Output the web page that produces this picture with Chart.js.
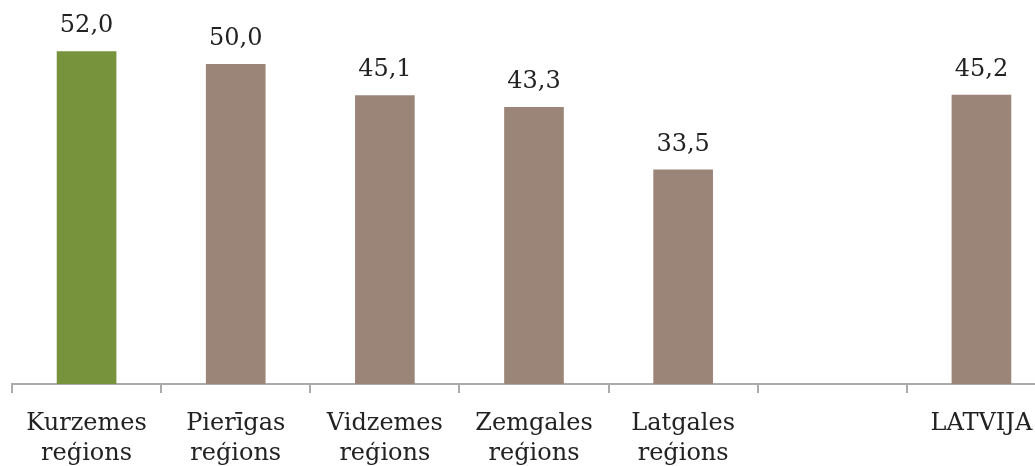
<!DOCTYPE html>
<html><head><meta charset="utf-8">
<script src="https://cdn.jsdelivr.net/npm/chart.js@4/dist/chart.umd.min.js"></script>
<style>
html,body{margin:0;padding:0;overflow:hidden;background:#fff;}
#wrap{position:absolute;left:0;top:0;width:1056px;height:466px;}
</style></head><body>
<div id="wrap"><canvas id="c" width="1056" height="466"></canvas></div>
<script>
const categories = [["Kurzemes","reģions"],["Pierīgas","reģions"],["Vidzemes","reģions"],["Zemgales","reģions"],["Latgales","reģions"],"","LATVIJA"];
const values = [52.0, 50.0, 45.1, 43.3, 33.5, null, 45.2];
const barColors = ["#77933C","#9B8578","#9B8578","#9B8578","#9B8578","#9B8578","#9B8578"];
const FONT = "'DejaVu Serif', serif";

const labelPlugin = {
  id: 'vlabels',
  afterDatasetsDraw(chart){
    const ctx = chart.ctx;
    const meta = chart.getDatasetMeta(0);
    ctx.save();
    ctx.font = "24px " + FONT;
    ctx.fillStyle = "#222";
    ctx.textAlign = "center";
    ctx.textBaseline = "alphabetic";
    meta.data.forEach((bar,i)=>{
      const v = values[i];
      if (v === null) return;
      ctx.fillText(v.toFixed(1).replace('.',','), bar.x, bar.y - 19);
    });
    ctx.restore();
  }
};

new Chart(document.getElementById('c'), {
  type: 'bar',
  data: { labels: categories, datasets: [{ data: values, backgroundColor: barColors, categoryPercentage: 1, barPercentage: 0.4 }] },
  options: {
    responsive: false, animation: false,
    layout: { padding: { left: 12, right: 0, top: 0, bottom: 0 } },
    plugins: { legend: { display: false }, tooltip: { enabled: false } },
    scales: {
      y: { display: false, min: 0, max: 60 },
      x: {
        afterFit: (s) => { s.height = 82; },
        grid: { offset: true, drawOnChartArea: false, tickLength: 9, color: "#ababab", lineWidth: 2 },
        border: { display: true, color: "#ababab", width: 2 },
        ticks: { color: "#222", font: { family: FONT, size: 24, lineHeight: 1.25 }, padding: 16, maxRotation: 0, autoSkip: false }
      }
    }
  },
  plugins: [labelPlugin]
});
</script>
</body></html>
